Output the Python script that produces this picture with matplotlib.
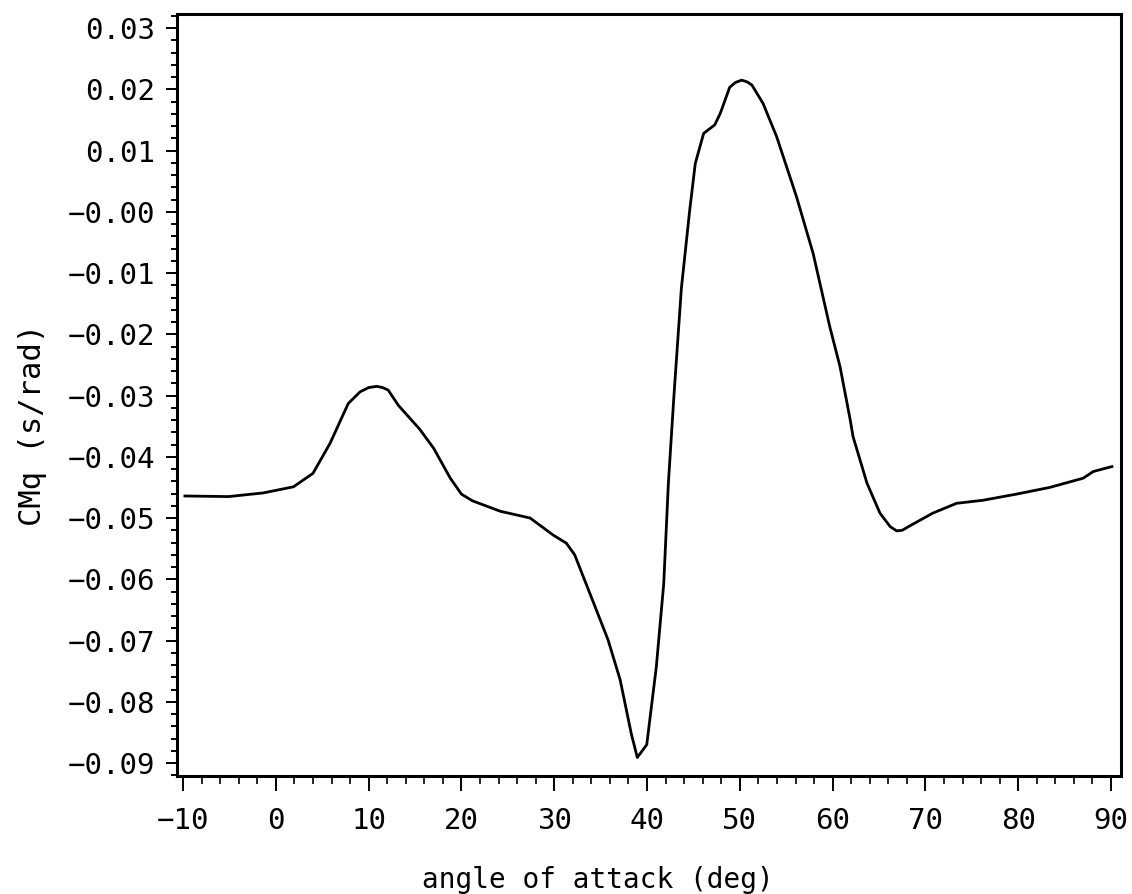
import matplotlib
matplotlib.use('Agg')
import matplotlib.pyplot as plt
from matplotlib.ticker import MultipleLocator

alpha = [-9.8, -5.1, -1.35, 1.9, 4.0, 5.84, 7.8, 9.07, 10.0, 10.87, 11.5,
         12.1, 13.2, 15.5, 17.0, 18.8, 20.0, 21.2, 24.2, 27.4, 29.9, 31.3,
         32.2, 34.2, 35.8, 37.1, 38.3, 38.95, 39.97, 41.0, 41.8, 42.3, 42.9,
         43.7, 44.6, 45.2, 46.1, 47.3, 47.9, 48.9, 49.5, 50.2, 50.8, 51.3,
         52.5, 53.96, 56.1, 57.9, 59.7, 60.8, 61.9, 62.2, 63.7, 65.1, 66.2,
         66.9, 67.5, 68.3, 70.8, 73.35, 76.2, 79.8, 83.4, 87.0, 88.1, 90.1]
cmq = [-0.0464, -0.0465, -0.0459, -0.0449, -0.0427, -0.0378, -0.0313,
       -0.0294, -0.0287, -0.0285, -0.0287, -0.0291, -0.0316, -0.0355,
       -0.0386, -0.0435, -0.0461, -0.0472, -0.0489, -0.0500, -0.0528,
       -0.0541, -0.0560, -0.0637, -0.0699, -0.0764, -0.0852, -0.0891,
       -0.0870, -0.0743, -0.0607, -0.0443, -0.0300, -0.0125, 0.0003,
       0.0079, 0.0128, 0.0142, 0.0161, 0.0203, 0.0211, 0.0215, 0.0212,
       0.0207, 0.0177, 0.0123, 0.0025, -0.0068, -0.0188, -0.0253, -0.0340,
       -0.0367, -0.0443, -0.0492, -0.0514, -0.0521, -0.0520, -0.0513,
       -0.0492, -0.0476, -0.0471, -0.0461, -0.0450, -0.0435, -0.0424,
       -0.0416]

xticks = [-10, 0, 10, 20, 30, 40, 50, 60, 70, 80, 90]
yticks = [0.03, 0.02, 0.01, 0.0, -0.01, -0.02, -0.03, -0.04, -0.05,
          -0.06, -0.07, -0.08, -0.09]
ytick_labels = ['0.03', '0.02', '0.01', '\u22120.00', '\u22120.01',
                '\u22120.02', '\u22120.03', '\u22120.04', '\u22120.05',
                '\u22120.06', '\u22120.07', '\u22120.08', '\u22120.09']
xtick_labels = ['\u221210', '0', '10', '20', '30', '40', '50', '60', '70',
                '80', '90']

plt.rcParams['font.family'] = ['DejaVu Sans Mono']

fig = plt.figure(figsize=(11.32, 8.94), dpi=100)
ax = fig.add_axes([0.1564, 0.132, 0.8339, 0.8523])

ax.plot(alpha, cmq, color='black', lw=2.0)

ax.set_xlim(-10.65, 91.08)
ax.set_ylim(-0.09212, 0.03229)

ax.set_xticks(xticks)
ax.set_xticklabels(xtick_labels)
ax.set_yticks(yticks)
ax.set_yticklabels(ytick_labels)
ax.xaxis.set_minor_locator(MultipleLocator(2))
ax.yaxis.set_minor_locator(MultipleLocator(0.002))

ax.tick_params(axis='both', which='major', direction='out', width=1.4,
               labelsize=21, color='black')
ax.tick_params(axis='y', which='major', length=8, pad=8)
ax.tick_params(axis='y', which='minor', length=4, width=1.4)
ax.tick_params(axis='x', which='major', length=11, pad=11)
ax.tick_params(axis='x', which='minor', length=6, width=1.2)

for sp in ax.spines.values():
    sp.set_linewidth(2.2)

ax.set_xlabel('angle of attack (deg)', fontsize=20)
ax.set_ylabel('CMq (s/rad)', fontsize=22)
ax.xaxis.set_label_coords(0.446, -0.118)
ax.yaxis.set_label_coords(-0.1377, 0.4606)

fig.savefig('out.png', dpi=100)
